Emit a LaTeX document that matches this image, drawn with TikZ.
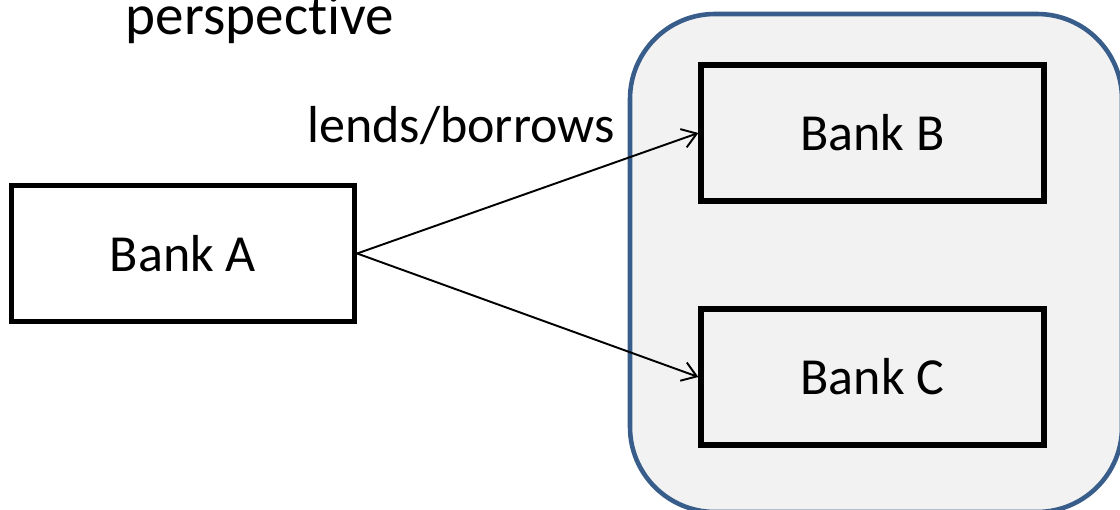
\documentclass[tikz,border=0pt]{standalone}
\usepackage{fontspec}
\setmainfont{Carlito}[Ligatures=NoCommon]
\usetikzlibrary{arrows.meta}

\definecolor{groupblue}{RGB}{56,93,138}
\definecolor{groupfill}{RGB}{242,242,242}

\tikzset{
    bank/.style={draw, line width=3pt, minimum width=6.86cm, minimum height=2.72cm,
        font=\fontsize{29.6}{35}\selectfont},
    link/.style={-{Straight Barb[length=8pt, width=11pt]}, line width=1.1pt},
}

\begin{document}
\begin{tikzpicture}
        \useasboundingbox (0, 0) rectangle (22.4, 10.2);

        % the group of banks on the right
        \draw[groupblue, fill=groupfill, line width=2.6pt, rounded corners=1.7cm]
            (12.6, -0.04) rectangle (22.44, 9.92);

        \node[bank] (bankA) at (3.66, 5.13) {Bank A};
        \node[bank] (bankB) at (17.45, 7.54) {Bank B};
        \node[bank] (bankC) at (17.45, 2.66) {Bank C};

        \draw[link] (bankA.east) -- (bankB.west);
        \draw[link] (bankA.east) -- (bankC.west);

        \node[anchor=base, font=\fontsize{29.6}{35}\selectfont] (lends) at (9.22, 7.34) {lends/borrows};
        \node[anchor=base, font=\fontsize{32.5}{38}\selectfont] (title) at (5.2, 9.5) {perspective};

    \end{tikzpicture}
\end{document}
